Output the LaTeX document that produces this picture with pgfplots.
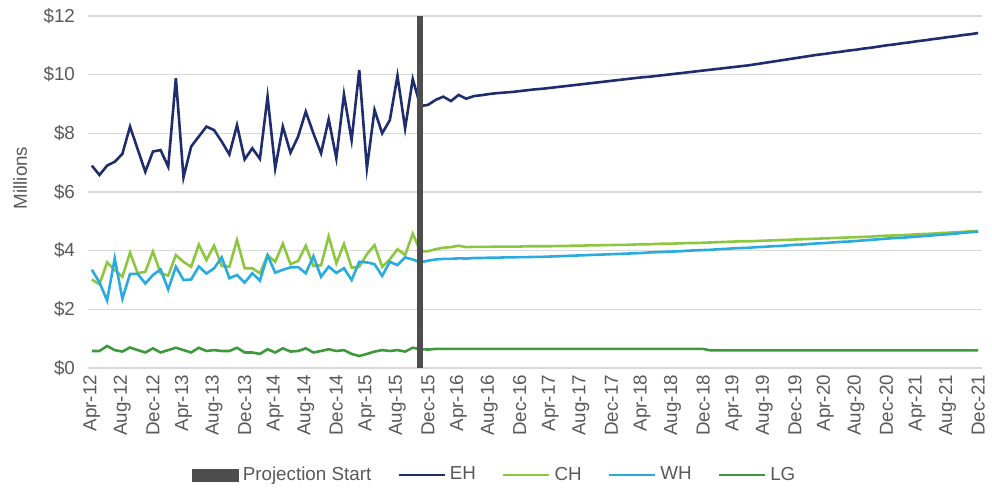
\documentclass[border=0pt]{standalone}
\usepackage{fontspec}
\setmainfont{Liberation Sans}
\usepackage{pgfplots}
\usepackage{pgfplotstable}
\pgfplotsset{compat=1.18}
\definecolor{ehc}{RGB}{31,45,110}
\definecolor{chc}{RGB}{141,198,63}
\definecolor{whc}{RGB}{41,171,226}
\definecolor{lgc}{RGB}{62,152,60}
\definecolor{barc}{RGB}{77,77,77}
\definecolor{txtc}{RGB}{89,89,89}
\definecolor{gridc}{RGB}{217,217,217}
\pgfplotstableread{
i eh ch wh lg
0 6.90 3.02 3.35 0.58
1 6.58 2.85 2.92 0.58
2 6.90 3.60 2.30 0.75
3 7.03 3.34 3.74 0.61
4 7.30 3.11 2.36 0.56
5 8.23 3.93 3.21 0.70
6 7.46 3.23 3.21 0.61
7 6.69 3.28 2.88 0.53
8 7.38 3.97 3.17 0.67
9 7.43 3.23 3.36 0.53
10 6.86 3.15 2.68 0.61
11 9.88 3.85 3.45 0.69
12 6.50 3.62 3.00 0.61
13 7.55 3.45 3.02 0.53
14 7.89 4.21 3.46 0.69
15 8.23 3.68 3.22 0.58
16 8.11 4.17 3.40 0.61
17 7.72 3.48 3.77 0.58
18 7.28 3.45 3.06 0.58
19 8.28 4.36 3.17 0.69
20 7.11 3.40 2.91 0.53
21 7.49 3.40 3.23 0.53
22 7.13 3.23 2.98 0.48
23 9.25 3.85 3.84 0.64
24 6.81 3.62 3.25 0.53
25 8.23 4.24 3.35 0.67
26 7.34 3.54 3.43 0.56
27 7.89 3.65 3.44 0.58
28 8.74 4.17 3.23 0.67
29 8.00 3.48 3.81 0.53
30 7.32 3.50 3.11 0.58
31 8.48 4.49 3.46 0.64
32 7.15 3.57 3.24 0.58
33 9.33 4.23 3.40 0.61
34 7.77 3.42 3.00 0.48
35 10.16 3.45 3.62 0.41
36 6.81 3.88 3.60 0.48
37 8.80 4.19 3.54 0.56
38 8.00 3.45 3.14 0.61
39 8.45 3.70 3.62 0.58
40 9.96 4.05 3.51 0.61
41 8.17 3.85 3.77 0.56
42 9.85 4.58 3.70 0.69
43 8.93 3.98 3.60 0.64
44 8.97 3.98 3.66 0.63
45 9.14 4.05 3.70 0.65
46 9.25 4.10 3.72 0.65
47 9.10 4.12 3.72 0.65
48 9.31 4.17 3.74 0.65
49 9.18 4.12 3.73 0.65
50 9.27 4.13 3.75 0.65
51 9.30 4.13 3.75 0.65
52 9.34 4.13 3.76 0.65
53 9.37 4.14 3.76 0.65
54 9.39 4.14 3.77 0.65
55 9.41 4.14 3.77 0.65
56 9.44 4.14 3.78 0.65
57 9.47 4.15 3.78 0.65
58 9.50 4.15 3.79 0.65
59 9.52 4.15 3.79 0.65
60 9.55 4.15 3.80 0.65
61 9.58 4.16 3.81 0.65
62 9.61 4.16 3.82 0.65
63 9.64 4.17 3.83 0.65
64 9.67 4.17 3.84 0.65
65 9.70 4.18 3.85 0.65
66 9.73 4.18 3.86 0.65
67 9.76 4.19 3.87 0.65
68 9.79 4.19 3.88 0.65
69 9.82 4.20 3.89 0.65
70 9.85 4.20 3.90 0.65
71 9.88 4.21 3.91 0.65
72 9.91 4.22 3.92 0.65
73 9.93 4.22 3.94 0.65
74 9.96 4.23 3.95 0.65
75 9.99 4.24 3.96 0.65
76 10.02 4.24 3.97 0.65
77 10.05 4.25 3.98 0.65
78 10.08 4.26 4.00 0.65
79 10.11 4.26 4.01 0.65
80 10.14 4.27 4.02 0.65
81 10.17 4.28 4.03 0.60
82 10.20 4.29 4.05 0.60
83 10.23 4.30 4.06 0.60
84 10.26 4.31 4.08 0.60
85 10.29 4.32 4.09 0.60
86 10.32 4.32 4.10 0.60
87 10.36 4.33 4.12 0.60
88 10.40 4.34 4.13 0.60
89 10.44 4.35 4.15 0.60
90 10.48 4.36 4.16 0.60
91 10.52 4.37 4.18 0.60
92 10.56 4.38 4.20 0.60
93 10.60 4.39 4.21 0.60
94 10.64 4.40 4.23 0.60
95 10.68 4.41 4.25 0.60
96 10.71 4.42 4.26 0.60
97 10.75 4.43 4.28 0.60
98 10.78 4.44 4.30 0.60
99 10.82 4.45 4.31 0.60
100 10.85 4.46 4.33 0.60
101 10.89 4.47 4.35 0.60
102 10.92 4.48 4.37 0.60
103 10.96 4.50 4.39 0.60
104 11.00 4.51 4.41 0.60
105 11.03 4.52 4.43 0.60
106 11.07 4.53 4.44 0.60
107 11.10 4.54 4.46 0.60
108 11.14 4.56 4.48 0.60
109 11.17 4.57 4.50 0.60
110 11.21 4.58 4.52 0.60
111 11.24 4.60 4.54 0.60
112 11.28 4.61 4.56 0.60
113 11.31 4.63 4.58 0.60
114 11.35 4.64 4.61 0.60
115 11.38 4.66 4.63 0.60
116 11.42 4.67 4.65 0.60
}\datatable
\begin{document}
\begin{tikzpicture}
\begin{axis}[name=ax, scale only axis, width=447pt, height=176pt,
  xmin=-0.5, xmax=116.5, ymin=0, ymax=12,
  ytick={0,2,...,12}, yticklabels={\$0,\$2,\$4,\$6,\$8,\$10,\$12},
  xtick={0,4,...,116},
  xticklabels={Apr-12,Aug-12,Dec-12,Apr-13,Aug-13,Dec-13,Apr-14,Aug-14,Dec-14,Apr-15,Aug-15,Dec-15,Apr-16,Aug-16,Dec-16,Apr-17,Aug-17,Dec-17,Apr-18,Aug-18,Dec-18,Apr-19,Aug-19,Dec-19,Apr-20,Aug-20,Dec-20,Apr-21,Aug-21,Dec-21},
  major tick length=0pt, axis line style={draw=none},
  ymajorgrids, grid style={line width=0.75pt, color=gridc},
  tick label style={font=\fontsize{9.4}{10.5}\selectfont, text=txtc},
  xticklabel style={rotate=90, anchor=east, xshift=0pt},
  yticklabel style={xshift=-3pt},
  ylabel={Millions},
  ylabel style={at={(axis description cs:-0.076,0.54)}, anchor=center, font=\fontsize{9.4}{10.5}\selectfont, text=txtc},
  legend columns=5,
  legend image code/.code={\draw[#1] (0pt,0pt) -- (23pt,0pt);},
  legend style={at={(0.456,-0.304)}, anchor=center, draw=none, fill=none,
    font=\fontsize{9.4}{10.5}\selectfont, text=txtc,
    /tikz/every even column/.append style={column sep=11pt}},
]
\addlegendimage{legend image code/.code={\fill[barc] (0pt,-3pt) rectangle (23pt,3pt);}}
\addlegendentry{Projection Start}
\addplot[ehc, line width=1.3pt] table[x=i, y=eh] {\datatable};
\addlegendentry{EH}
\addplot[chc, line width=1.3pt] table[x=i, y=ch] {\datatable};
\addlegendentry{CH}
\addplot[whc, line width=1.3pt] table[x=i, y=wh] {\datatable};
\addlegendentry{WH}
\addplot[lgc, line width=1.3pt] table[x=i, y=lg] {\datatable};
\addlegendentry{LG}
\addplot[barc, line width=3pt, forget plot] coordinates {(43,0) (43,12)};
\end{axis}
\pgfresetboundingbox
\path ([shift={(-44pt,-60pt)}]ax.south west) rectangle ([shift={(5pt,8pt)}]ax.north east);
\end{tikzpicture}
\end{document}
